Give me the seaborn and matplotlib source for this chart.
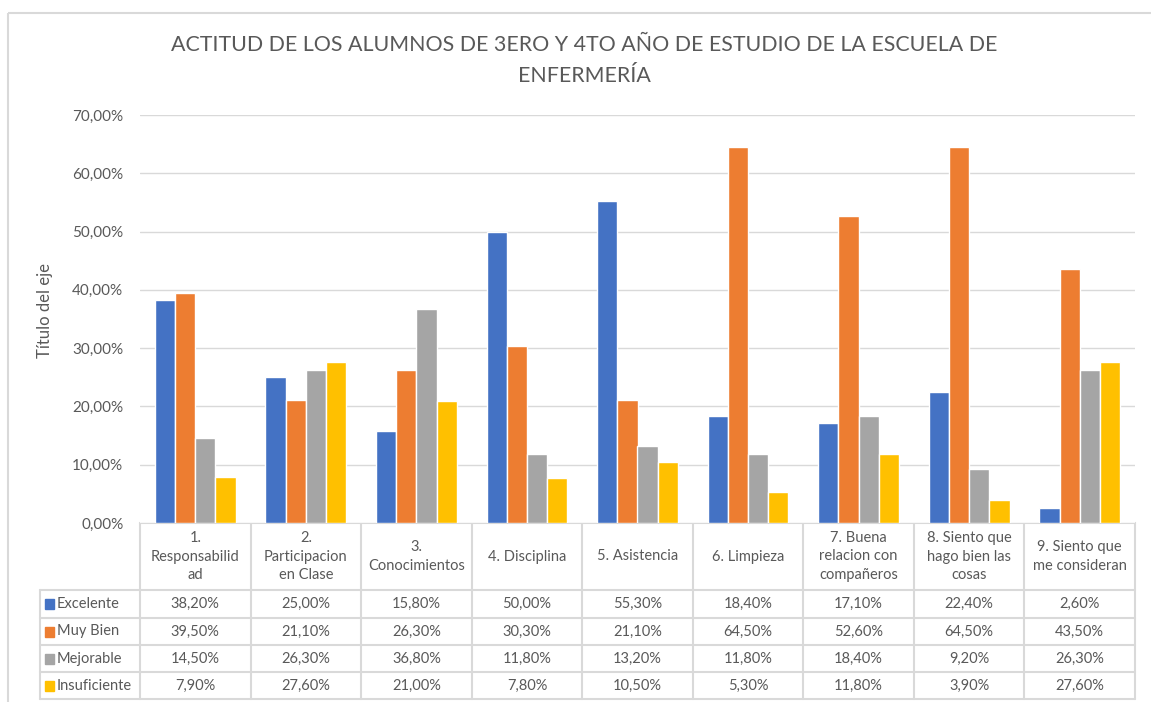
import pandas as pd
import matplotlib.pyplot as plt
import matplotlib.patches as mpatches
import seaborn as sns

# datos del grafico
categorias = ['1.\nResponsabilid\nad', '2.\nParticipacion\nen Clase', '3.\nConocimientos',
              '4. Disciplina', '5. Asistencia', '6. Limpieza',
              '7. Buena\nrelacion con\ncompañeros', '8. Siento que\nhago bien las\ncosas',
              '9. Siento que\nme consideran']
series = ['Excelente', 'Muy Bien', 'Mejorable', 'Insuficiente']
excelente = [38.2, 25.0, 15.8, 50.0, 55.3, 18.4, 17.1, 22.4, 2.6]
muy_bien = [39.5, 21.1, 26.3, 30.3, 21.1, 64.5, 52.6, 64.5, 43.5]
mejorable = [14.5, 26.3, 36.8, 11.8, 13.2, 11.8, 18.4, 9.2, 26.3]
insuficiente = [7.9, 27.6, 21.0, 7.8, 10.5, 5.3, 11.8, 3.9, 27.6]
colores = ['#4472C4', '#ED7D31', '#A5A5A5', '#FFC000']

valores = [excelente, muy_bien, mejorable, insuficiente]
df = pd.DataFrame({
    'categoria': [c for _ in series for c in categorias],
    'serie': [s for s in series for _ in categorias],
    'valor': [v / 100 for vals in valores for v in vals],
})

sns.set_theme(style='white')
plt.rcParams['font.family'] = ['Lato', 'DejaVu Sans']
texto = '#595959'
linea = '#D9D9D9'

W, H = 1151, 702
fig = plt.figure(figsize=(W / 100, H / 100), dpi=100)

# capa de fondo en pixeles para el marco y la tabla
bg = fig.add_axes([0, 0, 1, 1])
bg.set_xlim(0, W)
bg.set_ylim(H, 0)
bg.axis('off')
bg.add_patch(mpatches.Rectangle((8, 13), W, H, fill=False, edgecolor=linea, lw=1.5))

# area del grafico
x0, x1, ytop, ybot = 140, 1135, 115, 523
ax = fig.add_axes([x0 / W, (H - ybot) / H, (x1 - x0) / W, (ybot - ytop) / H])
sns.barplot(data=df, x='categoria', y='valor', hue='serie', palette=colores,
            width=0.73, saturation=1, legend=False, ax=ax, zorder=3)
ax.set_ylim(0, 0.7)
ax.set_xlim(-0.5, len(categorias) - 0.5)
ticks = [i / 10 for i in range(8)]
ax.set_yticks(ticks)
ax.set_yticklabels([f'{t * 100:.2f}'.replace('.', ',') + '%' for t in ticks],
                   color=texto, fontsize=11)
ax.tick_params(axis='y', length=0, pad=12)
ax.set_xticks([])
ax.set_xlabel('')
ax.set_ylabel('')
ax.grid(axis='y', color=linea, lw=1, zorder=0)
for s in ax.spines.values():
    s.set_visible(False)

fig.text(45 / W, (H - 310) / H, 'Título del eje', rotation=90, ha='center', va='center',
         color=texto, fontsize=12)
fig.text(584 / W, (H - 45) / H,
         'ACTITUD DE LOS ALUMNOS DE 3ERO Y 4TO AÑO DE ESTUDIO DE LA ESCUELA DE',
         ha='center', va='center', color=texto, fontsize=15.4)
fig.text(584 / W, (H - 76) / H, 'ENFERMERÍA',
         ha='center', va='center', color=texto, fontsize=15.4)

# tabla de datos
cw = (x1 - x0) / len(categorias)
filas = [523, 590, 618, 645, 672, 699]
lx = 40
bg.plot([x0, x1], [filas[0], filas[0]], color=linea, lw=1.5)
for y in filas[1:]:
    bg.plot([lx, x1], [y, y], color=linea, lw=1.5)
for i in range(len(categorias) + 1):
    xc = x0 + i * cw
    bg.plot([xc, xc], [filas[0], filas[-1]], color=linea, lw=1.5)
bg.plot([lx, lx], [filas[1], filas[-1]], color=linea, lw=1.5)

for i, cat in enumerate(categorias):
    xc = x0 + (i + 0.5) * cw
    bg.text(xc, (filas[0] + filas[1]) / 2, cat, ha='center', va='center',
            color=texto, fontsize=10.5, linespacing=1.45)
for j, (serie, vals) in enumerate(zip(series, valores)):
    yc = (filas[j + 1] + filas[j + 2]) / 2
    bg.add_patch(mpatches.Rectangle((45, yc - 5), 9, 10, color=colores[j]))
    bg.text(57, yc, serie, ha='left', va='center', color=texto, fontsize=10.5)
    for i, v in enumerate(vals):
        bg.text(x0 + (i + 0.5) * cw, yc, f'{v:.2f}'.replace('.', ',') + '%',
                ha='center', va='center', color=texto, fontsize=10.5)

fig.savefig('out.png', dpi=100)
